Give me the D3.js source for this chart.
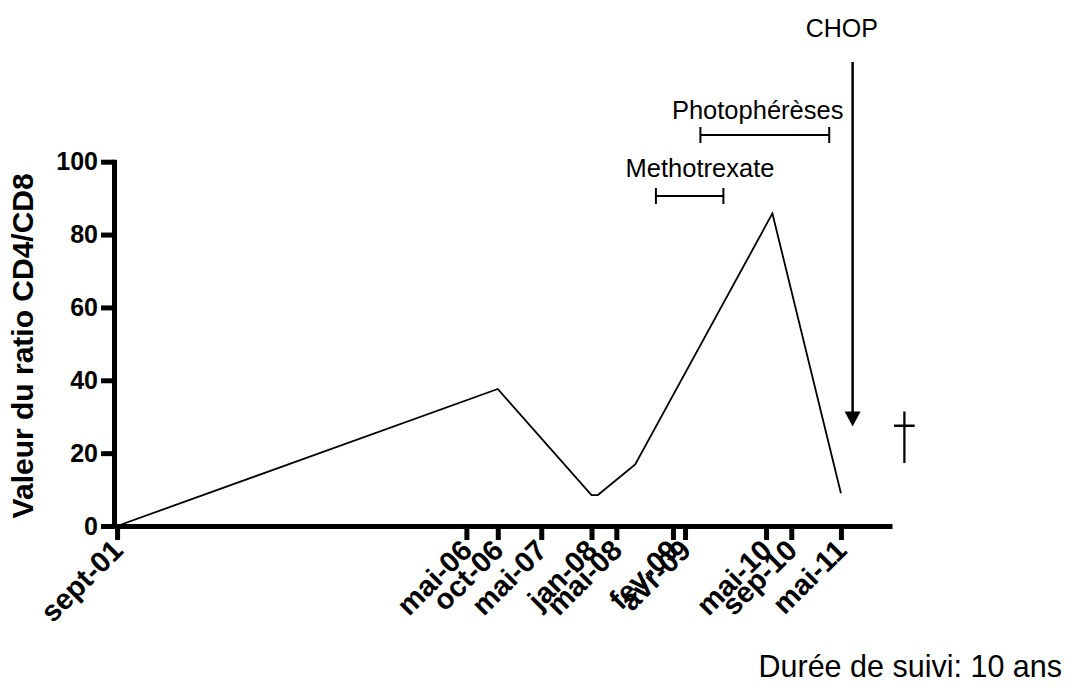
<!DOCTYPE html>
<html>
<head>
<meta charset="utf-8">
<script src="https://cdn.jsdelivr.net/npm/d3@7"></script>
<style>
  html, body { margin: 0; padding: 0; background: #fff; }
  svg { display: block; }
</style>
</head>
<body>
<svg id="chart" width="1075" height="691"></svg>
<script>
// CD4/CD8 ratio over follow-up
const sampleDates = ["2001-09-01", "2006-10-01", "2008-01-01", "2008-02-01", "2008-08-01", "2010-06-01", "2011-05-01"];
const ratioValues = [0, 37.6, 8.5, 8.5, 16.9, 85.8, 9.0];

// Dated ticks on the time axis and their labels
const tickDates  = ["2001-09-01", "2006-05-01", "2006-10-01", "2007-05-01", "2008-01-01", "2008-05-01",
                    "2009-02-01", "2009-04-01", "2010-05-01", "2010-09-01", "2011-05-01"];
const tickLabels = ["sept-01", "mai-06", "oct-06", "mai-07", "jan-08", "mai-08",
                    "fev-09", "avr-09", "mai-10", "sep-10", "mai-11"];
const yTicks = [0, 20, 40, 60, 80, 100];

// Treatment periods
const treatmentNames  = ["Methotrexate", "Photophérèses"];
const treatmentStarts = ["2008-11-10", "2009-06-15"];
const treatmentEnds   = ["2009-10-05", "2011-03-05"];
const treatmentLabelAt = ["2009-06-13", "2010-03-21"];

// CHOP start and death
const chopDate = "2011-06-27";
const chopLabelAt = "2011-05-05";
const chopValue = 27.3;
const deathDate = "2012-03-05";
const deathValue = 27.5;

const parse = d3.timeParse("%Y-%m-%d");
const svg = d3.select("#chart");

const x = d3.scaleTime()
  .domain([parse("2001-08-17"), parse("2012-01-05")])
  .range([114, 892]);
const y = d3.scaleLinear().domain([0, 100]).range([526, 161.7]);

const sansFont = "'Liberation Sans', Arial, Helvetica, sans-serif";

// Data line
const line = d3.line()
  .x((d, i) => x(parse(sampleDates[i])))
  .y(d => y(d));
svg.append("path")
  .datum(ratioValues)
  .attr("d", line)
  .attr("fill", "none")
  .attr("stroke", "#000")
  .attr("stroke-width", 1.8)
  .attr("stroke-linejoin", "miter");

// Y axis
const yAxis = svg.append("g")
  .attr("transform", `translate(${x.range()[0]},0)`)
  .call(d3.axisLeft(y).tickValues(yTicks).tickSize(13).tickPadding(3).tickSizeOuter(0));
yAxis.select(".domain").attr("stroke-width", 5).attr("stroke-linecap", "square");
yAxis.selectAll(".tick line").attr("stroke-width", 5);
yAxis.selectAll(".tick text")
  .attr("font-family", sansFont)
  .attr("font-weight", "bold")
  .attr("font-size", 25)
  .attr("fill", "#000");

// X axis
const xAxis = svg.append("g")
  .attr("transform", `translate(0,${y(0)})`)
  .call(d3.axisBottom(x)
    .tickValues(tickDates.map(parse))
    .tickFormat((d, i) => tickLabels[i])
    .tickSize(14)
    .tickSizeOuter(0));
xAxis.select(".domain").attr("stroke-width", 5);
xAxis.selectAll(".tick line").attr("stroke-width", 5);
xAxis.selectAll(".tick text")
  .attr("font-family", sansFont)
  .attr("font-weight", "bold")
  .attr("font-size", 29)
  .attr("fill", "#000")
  .attr("text-anchor", "end")
  .attr("x", 0).attr("y", 0).attr("dy", 0)
  .attr("transform", "translate(7,26) rotate(-45)");

// Y axis title
svg.append("text")
  .attr("transform", `translate(33,${(y(0) + y(100)) / 2 + 2}) rotate(-90)`)
  .attr("text-anchor", "middle")
  .attr("font-family", sansFont)
  .attr("font-weight", "bold")
  .attr("font-size", 30)
  .text("Valeur du ratio CD4/CD8");

// Treatment bars with end caps
const barY = [196, 135];
const labelY = [177, 119];
treatmentNames.forEach((name, i) => {
  const x0 = x(parse(treatmentStarts[i])), x1 = x(parse(treatmentEnds[i]));
  const g = svg.append("g").attr("stroke", "#000").attr("stroke-width", 2);
  g.append("line").attr("x1", x0).attr("x2", x1).attr("y1", barY[i]).attr("y2", barY[i]);
  g.append("line").attr("x1", x0).attr("x2", x0).attr("y1", barY[i] - 8).attr("y2", barY[i] + 8);
  g.append("line").attr("x1", x1).attr("x2", x1).attr("y1", barY[i] - 8).attr("y2", barY[i] + 8);
  svg.append("text")
    .attr("x", x(parse(treatmentLabelAt[i])))
    .attr("y", labelY[i])
    .attr("text-anchor", "middle")
    .attr("font-family", sansFont)
    .attr("font-size", 25.5)
    .text(name);
});

// CHOP arrow
const cx = x(parse(chopDate));
const tipY = y(chopValue);
svg.append("line")
  .attr("x1", cx).attr("x2", cx)
  .attr("y1", 62).attr("y2", tipY - 12)
  .attr("stroke", "#000").attr("stroke-width", 2.5);
svg.append("path")
  .attr("d", `M${cx - 8},${tipY - 15} L${cx + 8},${tipY - 15} L${cx},${tipY} Z`)
  .attr("fill", "#000");
svg.append("text")
  .attr("x", x(parse(chopLabelAt)))
  .attr("y", 37)
  .attr("text-anchor", "middle")
  .attr("font-family", sansFont)
  .attr("font-size", 25)
  .text("CHOP");

// Death marker
const dx = x(parse(deathDate));
svg.append("text")
  .attr("transform", `translate(${dx},${y(deathValue) + 31}) scale(0.75,1)`)
  .attr("text-anchor", "middle")
  .attr("font-family", "'DejaVu Sans', sans-serif")
  .attr("font-weight", "200")
  .attr("font-size", 62)
  .text("†");

// Follow-up duration
svg.append("text")
  .attr("x", 1062)
  .attr("y", 677)
  .attr("text-anchor", "end")
  .attr("font-family", sansFont)
  .attr("font-size", 30.5)
  .text("Durée de suivi: 10 ans");
</script>
</body>
</html>
